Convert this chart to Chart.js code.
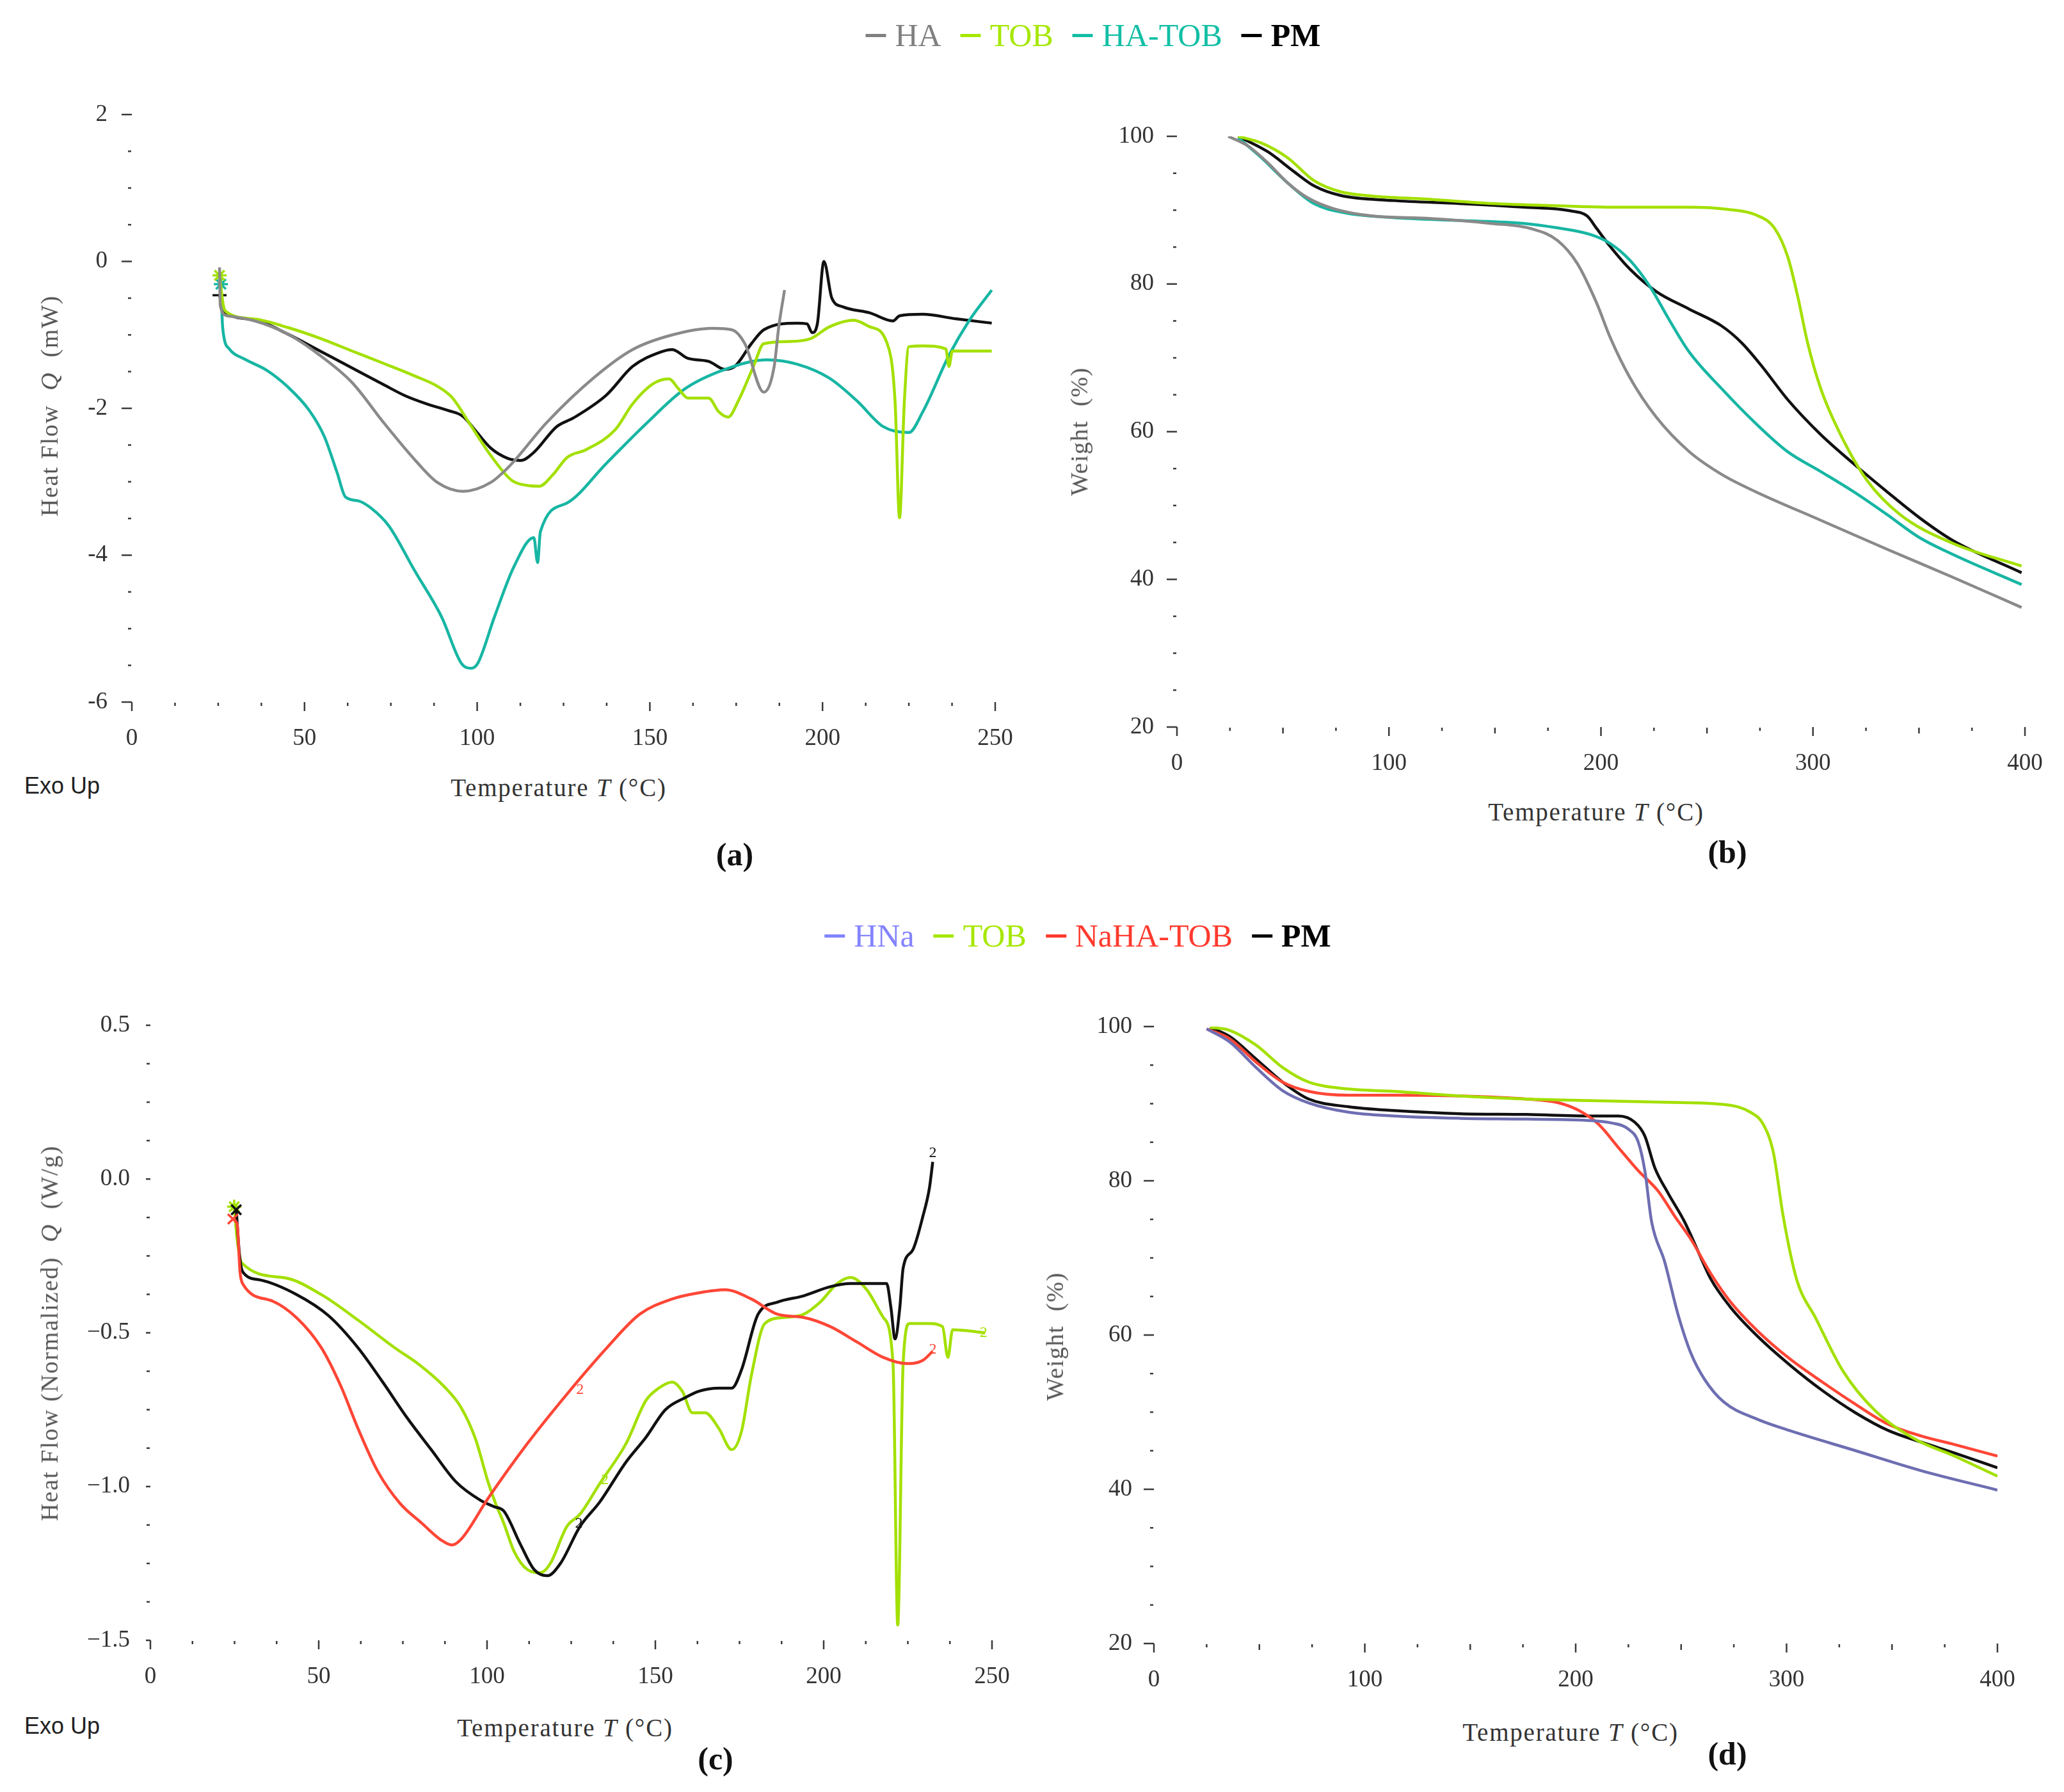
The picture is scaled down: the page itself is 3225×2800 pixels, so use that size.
<!DOCTYPE html>
<html><head><meta charset="utf-8">
<script src="https://cdn.jsdelivr.net/npm/chart.js@4.4.1/dist/chart.umd.min.js"></script>
<style>
html,body{margin:0;padding:0;background:#fff;}
body{width:3225px;height:2800px;position:relative;overflow:hidden;font-family:'Liberation Serif','DejaVu Serif',serif;}
.box{position:absolute;}
.vt{position:absolute;white-space:nowrap;transform:translate(-50%,-50%) rotate(-90deg);color:#555;font-size:38px;}
.ht{position:absolute;white-space:nowrap;transform:translate(-50%,-50%);color:#333;font-size:39px;letter-spacing:1.8px;}
.exo{position:absolute;white-space:nowrap;transform:translateY(-50%);font-family:'Liberation Sans',Arial,sans-serif;font-size:36px;color:#222;}
.pl{position:absolute;white-space:nowrap;transform:translate(-50%,-50%);font-weight:bold;font-size:50px;color:#111;}
.legend{position:absolute;transform:translate(-50%,-50%);display:flex;align-items:center;font-size:50px;white-space:nowrap;}
.legend .it{display:flex;align-items:center;margin:0 15px;}
.legend .d{display:inline-block;width:32px;height:5px;margin-right:14px;}
</style></head><body>
<script>
// ---------------- DATA ----------------
// Panel (a) DSC, Heat Flow Q (mW)
const A_HA_T  = [25.4,25.6,27.6,36,45.2,54.5,63.8,73,82.3,88.5,95.9,103.9,109.5,120,133.6,145,156.5,168,173.7,177.5,183,186,187.3,189];
const A_HA_Q  = [-0.08,-0.6,-0.74,-0.815,-0.99,-1.28,-1.65,-2.2,-2.72,-3.01,-3.13,-3.01,-2.78,-2.2,-1.59,-1.2,-1.0,-0.91,-0.93,-1.12,-1.78,-1.43,-0.9,-0.39];
const A_TOB_T = [25.4,26.5,27.3,36,45.2,54.5,63.8,73,82.3,88.5,92.8,97.7,103.9,110,114.5,118,122,126,131.7,140,145,150.8,155.5,158.4,161,167,170,172.7,175.6,180,183,190.8,196.6,202,209,213.7,218.5,221,222.3,223.7,225,229,235.7,236.6,237.6,249];
const A_TOB_Q = [-0.19,-0.6,-0.685,-0.787,-0.9,-1.047,-1.22,-1.39,-1.567,-1.70,-1.856,-2.2,-2.64,-2.98,-3.05,-3.06,-2.9,-2.67,-2.56,-2.29,-1.94,-1.67,-1.6,-1.74,-1.86,-1.86,-2.05,-2.12,-1.9,-1.43,-1.12,-1.09,-1.05,-0.89,-0.8,-0.89,-1.09,-1.9,-3.49,-1.9,-1.16,-1.15,-1.19,-1.43,-1.22,-1.22];
const A_HT_T  = [25.8,26.3,28.2,32.9,39,45.2,51.4,55.7,59.4,61.9,65.6,69.3,74.4,82,89.7,95.4,98.3,100.2,105,110.7,116.4,117.5,118.3,126,137.4,148.9,160,171.8,184,192.7,202,210,217.6,225,229,236.6,242.4,249];
const A_HT_Q  = [-0.31,-0.9,-1.19,-1.336,-1.48,-1.71,-2.03,-2.38,-2.87,-3.21,-3.26,-3.36,-3.6,-4.22,-4.84,-5.47,-5.54,-5.47,-4.84,-4.15,-3.76,-4.1,-3.68,-3.29,-2.75,-2.21,-1.74,-1.47,-1.34,-1.4,-1.59,-1.9,-2.25,-2.33,-2.05,-1.28,-0.81,-0.39];
const A_PM_T  = [25.4,26.3,27.3,36,45.2,54.5,63.8,73,79.2,85.4,91.6,95.9,99.6,103.9,108.8,112.6,116.4,123,127.9,137.4,145,152.7,156.5,161,167,171.8,174.6,179.4,183,192.7,195.5,197,198.5,200.4,202.7,206,213.7,220.4,222.3,229,238.5,249];
const A_PM_Q  = [-0.46,-0.62,-0.70,-0.80,-0.99,-1.22,-1.45,-1.68,-1.83,-1.94,-2.03,-2.11,-2.31,-2.54,-2.68,-2.71,-2.6,-2.25,-2.13,-1.82,-1.43,-1.24,-1.2,-1.32,-1.36,-1.47,-1.43,-1.12,-0.93,-0.84,-0.85,-0.97,-0.85,0.0,-0.5,-0.62,-0.7,-0.81,-0.74,-0.72,-0.78,-0.84];

// Panel (b) TGA, Weight (%)
const B_HA_T  = [24.2,33.5,42.9,52.2,61.5,73.9,92.5,117.4,148.4,167,179.5,188.8,198,204.3,213.7,226,241.6,257,272.7,303.7,334.8,365.8,398.4];
const B_HA_W  = [100,98.7,96.4,93.7,91.7,90.2,89.2,88.9,88.2,87.5,85.9,82.8,77.4,72.8,67.3,62,57.3,54.2,51.9,48,44.1,40.3,36.2];
const B_TOB_T = [28.9,39.8,52.2,64.6,77,92.5,117.4,148.4,179.5,210.6,241.6,260,272.7,282,288.2,292.9,297.5,303.7,313,325.5,341,365.8,398.4];
const B_TOB_W = [100,99.1,97.1,94,92.5,91.9,91.5,90.9,90.6,90.4,90.4,90.1,89.4,87.5,83.6,78.2,72,65.8,59.6,53.4,48.8,44.9,41.8];
const B_HT_T  = [28.9,39.8,52.2,64.6,80,101.9,133,164,179.5,195,204.3,213.7,223,232.3,241.6,257,272.7,288,303.7,319,334.8,350,365.8,398.4];
const B_HT_W  = [99.8,97.1,93.7,90.9,89.6,89,88.6,88.2,87.6,86.7,85.5,83.2,79.7,75.1,70.8,65.8,61.2,57.3,54.6,51.9,48.8,45.7,43.4,39.3];
const B_PM_T  = [28.9,42.9,55.3,64.6,77,101.9,133,164,185.7,193.5,198,204.3,213.7,226,241.6,257,266.5,275.8,288.2,303.7,319,334.8,350,365.8,398.4];
const B_PM_W  = [100,97.9,95.2,93.3,92,91.3,90.9,90.4,89.9,89.2,87.5,85.1,82,79,76.6,74.3,72,68.9,64.3,59.6,55.7,51.9,48.4,45.3,40.9];

// Panel (c) DSC, Heat Flow (Normalized) Q (W/g)
const C_TOB_T = [24.9,25.8,27.1,39.9,50.8,61.7,72.6,79.9,87.2,92.3,96.6,100.3,102.5,105,108,112,115.9,118.8,123.7,127.6,133.5,141.3,147.2,151,155,158,161,164.8,168.8,172.7,175.6,178.5,182.5,188.3,194,199,204,208,212.8,217.7,220.6,222,223.6,225.5,231.4,235.3,236.9,238.3,248];
const C_TOB_Q = [-0.09,-0.2,-0.272,-0.321,-0.376,-0.459,-0.549,-0.604,-0.674,-0.743,-0.846,-0.985,-1.054,-1.12,-1.21,-1.27,-1.28,-1.25,-1.13,-1.09,-0.99,-0.86,-0.72,-0.68,-0.66,-0.69,-0.76,-0.76,-0.81,-0.88,-0.82,-0.64,-0.47,-0.45,-0.44,-0.40,-0.34,-0.32,-0.36,-0.45,-0.60,-1.45,-0.60,-0.47,-0.47,-0.48,-0.58,-0.49,-0.5];
const C_PM_T  = [25.5,26.5,27.5,32.6,43.5,53,61.7,69,76.3,83.5,90.8,98.1,102,105,110,114,117.9,121.8,127.6,133.5,141.3,147.2,153,159,162.9,168.8,172.7,175.6,180.5,186.4,194,202,208,213.8,218.7,220,221.2,222.6,223.6,226.5,229.5,231.4,232.4];
const C_PM_Q  = [-0.1,-0.25,-0.303,-0.328,-0.376,-0.445,-0.549,-0.66,-0.777,-0.881,-0.985,-1.045,-1.065,-1.08,-1.19,-1.27,-1.29,-1.25,-1.13,-1.05,-0.92,-0.84,-0.75,-0.71,-0.69,-0.68,-0.68,-0.62,-0.44,-0.40,-0.38,-0.35,-0.34,-0.34,-0.34,-0.42,-0.52,-0.42,-0.29,-0.23,-0.12,-0.03,0.056];
const C_NA_T  = [24.5,25.8,26.6,27.5,36.3,43.5,50.8,56.6,61.7,67.5,74.1,80.7,86.5,89.5,92.4,100.2,112,123.7,135.5,145.3,155,162.9,170.7,178.5,186.4,194,202,209.9,217.7,224.5,229.4,232.4];
const C_NA_Q  = [-0.13,-0.15,-0.3,-0.342,-0.397,-0.452,-0.549,-0.674,-0.812,-0.95,-1.054,-1.12,-1.175,-1.19,-1.17,-1.04,-0.86,-0.70,-0.55,-0.44,-0.39,-0.37,-0.36,-0.39,-0.44,-0.45,-0.48,-0.53,-0.58,-0.60,-0.59,-0.56];
// small "2" run markers printed on the (c) curves
const C_NOTE_T = [232.4,127.6,135,127.3,232.4,247.5];
const C_NOTE_Q = [0.085,-0.685,-0.98,-1.12,-0.555,-0.5];
const C_NOTE_S = ['PM','NaHA-TOB','TOB','PM','NaHA-TOB','TOB'];

// Panel (d) TGA, Weight (%)
const D_HNA_T = [25,36,48.4,61,73.4,92.2,114,145.3,176.6,207.8,217,225,229.7,232.8,236,242.2,248.4,254.7,261,270.3,286,301.6,332.8,364,400];
const D_HNA_W = [99.7,98,94.7,91.7,90.1,88.9,88.4,88.1,88,87.8,87.5,86.7,85,81.3,74.7,69.5,62.8,57.6,54.3,51.3,49.1,47.6,45,42.4,39.9];
const D_TOB_T = [26.6,36,48.4,61,73.4,92.2,114,145.3,176.6,207.8,239,270.3,282.8,289,293.8,298.4,304.7,314,326.6,342,361,379.7,400];
const D_TOB_W = [99.9,99.5,97.6,94.7,92.8,91.9,91.6,91,90.6,90.4,90.2,89.9,88.9,87.3,83.6,75.4,67.3,62.1,55.4,50.2,46.5,44.3,41.7];
const D_NA_T  = [25,36,48.4,61,73.4,92.2,114,145.3,176.6,192,201.6,211,220.3,229.7,239,247,254.7,264,273.4,286,301.6,317,332.8,348.4,364,379.7,400];
const D_NA_W  = [99.7,98.4,95.4,92.8,91.6,91.1,91.1,91,90.6,90.1,89.1,87.3,84.3,81.3,78.7,75.4,72.4,68,64.3,60.6,56.9,53.9,51,48.4,46.9,45.8,44.3];
const D_PM_T  = [26.6,36,48.4,61,73.4,92.2,114,145.3,176.6,207.8,220.3,228,232.8,237.5,243.8,251.6,257.8,264,273.4,286,301.6,317,332.8,348.4,364,379.7,400];
const D_PM_W  = [99.9,98.7,95.8,92.8,90.6,89.6,89.1,88.7,88.6,88.4,88.4,87.6,85.8,81.7,78.4,74.7,71,67.3,63.6,59.9,56.1,52.8,49.9,47.6,46.1,44.7,42.8];

// Axis ticks
const X_DSC_TICKS = [0,50,100,150,200,250];
const X_TGA_TICKS = [0,100,200,300,400];
const Y_A_TICKS = [-6,-4,-2,0,2];
const Y_C_TICKS = [-1.5,-1.0,-0.5,0.0,0.5];
const Y_W_TICKS = [20,40,60,80,100];

const LEGEND_TOP = ['HA','TOB','HA-TOB','PM'];
const LEGEND_BOT = ['HNa','TOB','NaHA-TOB','PM'];

// ---------------- STYLE ----------------
const COL = {'HA':'#8a8a8a','TOB':'#a3e000','HA-TOB':'#17b6a3','PM':'#111111','HNa':'#6e6eb2','NaHA-TOB':'#ff4636'};
const LEG_COL = {'HA':'#808080','TOB':'#a6e800','HA-TOB':'#12bfa5','PM':'#000000','HNa':'#8383ff','NaHA-TOB':'#ff3a2e'};

Chart.defaults.font.family = "'Liberation Serif','DejaVu Serif',serif";

const YW = 170, PT = 50, PR = 70, XH = 90;

const tickPlugin = {
  id: 'axTicks',
  afterDraw(chart, args, o) {
    const {ctx, chartArea: a, scales: {x, y}} = chart;
    ctx.save();
    ctx.strokeStyle = '#3a3a3a';
    ctx.lineWidth = 2.5;
    const line = (x1, y1, x2, y2) => { ctx.beginPath(); ctx.moveTo(x1, y1); ctx.lineTo(x2, y2); ctx.stroke(); };
    const isMul = (v, s) => s && Math.abs(v / s - Math.round(v / s)) < 1e-6;
    const nx = Math.round((x.max - x.min) / o.xMinor);
    for (let i = 0; i <= nx; i++) {
      const v = x.min + i * o.xMinor, px = x.getPixelForValue(v);
      if (isMul(v, o.xMajor)) line(px, a.bottom, px, a.bottom + 14);
      else if (isMul(v, o.xMid)) line(px, a.bottom + 1, px, a.bottom + 10);
      else line(px, a.bottom + 1, px, a.bottom + 6);
    }
    const ny = Math.round((y.max - y.min) / o.yMinor);
    for (let i = 0; i <= ny; i++) {
      const v = y.min + i * o.yMinor, py = y.getPixelForValue(v);
      if (isMul(v - y.min, o.yMajor)) line(a.left - o.yMajorLen, py, a.left, py);
      else line(a.left - 6, py, a.left - 1, py);
    }
    if (o.notes) {
      ctx.font = "24px 'Liberation Serif'";
      ctx.textAlign = 'center'; ctx.textBaseline = 'middle';
      o.notes.t.forEach((t, i) => {
        ctx.fillStyle = COL[o.notes.s[i]];
        ctx.fillText('2', x.getPixelForValue(t), y.getPixelForValue(o.notes.q[i]));
      });
    }
    ctx.restore();
  }
};

function makePanel(area, cfg) {
  const div = document.createElement('div');
  div.className = 'box';
  div.style.left = (area.l - YW) + 'px';
  div.style.top = (area.t - PT) + 'px';
  div.style.width = (area.r - area.l + YW + PR) + 'px';
  div.style.height = (area.b - area.t + PT + XH) + 'px';
  const cv = document.createElement('canvas');
  div.appendChild(cv);
  document.body.appendChild(div);
  new Chart(cv, {
    type: 'line',
    data: {
      datasets: cfg.series.map(s => ({
        label: s.name,
        data: s.t.map((t, i) => ({x: t, y: s.v[i]})),
        borderColor: COL[s.name],
        backgroundColor: COL[s.name],
        borderWidth: 4.5,
        pointRadius: c => (s.marker && c.dataIndex === 0) ? 11 : 0,
        pointStyle: s.marker || 'circle',
        pointBorderWidth: 3.5,
        fill: false,
        cubicInterpolationMode: 'monotone'
      }))
    },
    options: {
      animation: false, responsive: true, maintainAspectRatio: false, devicePixelRatio: 1,
      layout: {padding: {left: 0, top: PT, right: PR, bottom: 0}},
      plugins: {legend: {display: false}, tooltip: {enabled: false}, axTicks: cfg.ticks},
      scales: {
        x: {
          type: 'linear', min: cfg.xTicks[0], max: cfg.xTicks[cfg.xTicks.length - 1],
          grid: {display: false}, border: {display: false},
          afterBuildTicks: s => { s.ticks = cfg.xTicks.map(v => ({value: v})); },
          ticks: {color: '#333', font: {size: 37}, padding: 27, maxRotation: 0, autoSkip: false},
          afterFit: s => { s.height = XH; s.paddingLeft = 0; s.paddingRight = 0; }
        },
        y: {
          type: 'linear', min: cfg.yTicks[0], max: cfg.yTicks[cfg.yTicks.length - 1],
          grid: {display: false}, border: {display: false},
          afterBuildTicks: s => { s.ticks = cfg.yTicks.map(v => ({value: v})); },
          ticks: {color: '#333', font: {size: 37}, padding: cfg.yPad, autoSkip: false, callback: cfg.yFmt},
          afterFit: s => { s.width = YW; s.paddingTop = 0; s.paddingBottom = 0; }
        }
      }
    },
    plugins: [tickPlugin]
  });
}

// Panel (a)
makePanel({l: 206, r: 1555, t: 179, b: 1097}, {
  xTicks: X_DSC_TICKS, yTicks: Y_A_TICKS, yPad: 30, yFmt: v => String(v),
  ticks: {xMinor: 12.5, xMajor: 50, yMinor: 0.5, yMajor: 2, yMajorLen: 16},
  series: [
    {name: 'HA', t: A_HA_T, v: A_HA_Q},
    {name: 'TOB', t: A_TOB_T, v: A_TOB_Q, marker: 'star'},
    {name: 'HA-TOB', t: A_HT_T, v: A_HT_Q, marker: 'star'},
    {name: 'PM', t: A_PM_T, v: A_PM_Q, marker: 'line'}
  ]
});
// Panel (b)
makePanel({l: 1839, r: 3164, t: 213, b: 1136}, {
  xTicks: X_TGA_TICKS, yTicks: Y_W_TICKS, yPad: 28, yFmt: v => String(v),
  ticks: {xMinor: 25, xMid: 50, xMajor: 100, yMinor: 5, yMajor: 20, yMajorLen: 16},
  series: [
    {name: 'HA', t: B_HA_T, v: B_HA_W},
    {name: 'TOB', t: B_TOB_T, v: B_TOB_W},
    {name: 'HA-TOB', t: B_HT_T, v: B_HT_W},
    {name: 'PM', t: B_PM_T, v: B_PM_W}
  ]
});
// Panel (c)
makePanel({l: 235, r: 1550, t: 1602, b: 2563}, {
  xTicks: X_DSC_TICKS, yTicks: Y_C_TICKS, yPad: 24, yFmt: v => v.toFixed(1).replace('-', '\u2212'),
  ticks: {xMinor: 12.5, xMajor: 50, yMinor: 0.125, yMajor: 0.5, yMajorLen: 7,
          notes: {t: C_NOTE_T, q: C_NOTE_Q, s: C_NOTE_S}},
  series: [
    {name: 'NaHA-TOB', t: C_NA_T, v: C_NA_Q, marker: 'crossRot'},
    {name: 'PM', t: C_PM_T, v: C_PM_Q, marker: 'crossRot'},
    {name: 'TOB', t: C_TOB_T, v: C_TOB_Q, marker: 'star'}
  ]
});
// Panel (d)
makePanel({l: 1803, r: 3121, t: 1604, b: 2568}, {
  xTicks: X_TGA_TICKS, yTicks: Y_W_TICKS, yPad: 26, yFmt: v => String(v),
  ticks: {xMinor: 25, xMid: 50, xMajor: 100, yMinor: 5, yMajor: 20, yMajorLen: 16},
  series: [
    {name: 'HNa', t: D_HNA_T, v: D_HNA_W},
    {name: 'TOB', t: D_TOB_T, v: D_TOB_W},
    {name: 'NaHA-TOB', t: D_NA_T, v: D_NA_W},
    {name: 'PM', t: D_PM_T, v: D_PM_W}
  ]
});

// ---------------- TEXT ----------------
function addText(cls, html, x, y, extra) {
  const d = document.createElement('div');
  d.className = cls; d.innerHTML = html;
  d.style.left = x + 'px'; d.style.top = y + 'px';
  if (extra) Object.assign(d.style, extra);
  document.body.appendChild(d);
  return d;
}
function addLegend(names, cx, cy) {
  const d = document.createElement('div');
  d.className = 'legend';
  d.style.left = cx + 'px'; d.style.top = cy + 'px';
  names.forEach(n => {
    const it = document.createElement('div'); it.className = 'it';
    const dash = document.createElement('span'); dash.className = 'd'; dash.style.background = LEG_COL[n];
    const tx = document.createElement('span'); tx.textContent = n; tx.style.color = LEG_COL[n];
    if (n === 'PM') tx.style.fontWeight = 'bold';
    it.appendChild(dash); it.appendChild(tx); d.appendChild(it);
  });
  document.body.appendChild(d);
}
addLegend(LEGEND_TOP, 1708, 55);
addLegend(LEGEND_BOT, 1684, 1462);

const TT = 'Temperature <i>T</i> (°C)';
addText('ht', TT, 873, 1230);
addText('ht', TT, 2494, 1268);
addText('ht', TT, 883, 2699);
addText('ht', TT, 2454, 2706);

addText('vt', 'Heat Flow&nbsp; <i>Q</i> &nbsp;(mW)', 77, 634, {letterSpacing: '1.7px'});
addText('vt', 'Weight&nbsp; (%)', 1686, 674, {letterSpacing: '1.5px'});
addText('vt', 'Heat Flow (Normalized)&nbsp; <i>Q</i> &nbsp;(W/g)', 77, 2083, {letterSpacing: '1.8px'});
addText('vt', 'Weight&nbsp; (%)', 1648, 2088, {letterSpacing: '1.5px'});

addText('exo', 'Exo Up', 38, 1228);
addText('exo', 'Exo Up', 38, 2697);

addText('pl', '(a)', 1148, 1335);
addText('pl', '(b)', 2699, 1331);
addText('pl', '(c)', 1118, 2748);
addText('pl', '(d)', 2699, 2740);
</script>
</body></html>
